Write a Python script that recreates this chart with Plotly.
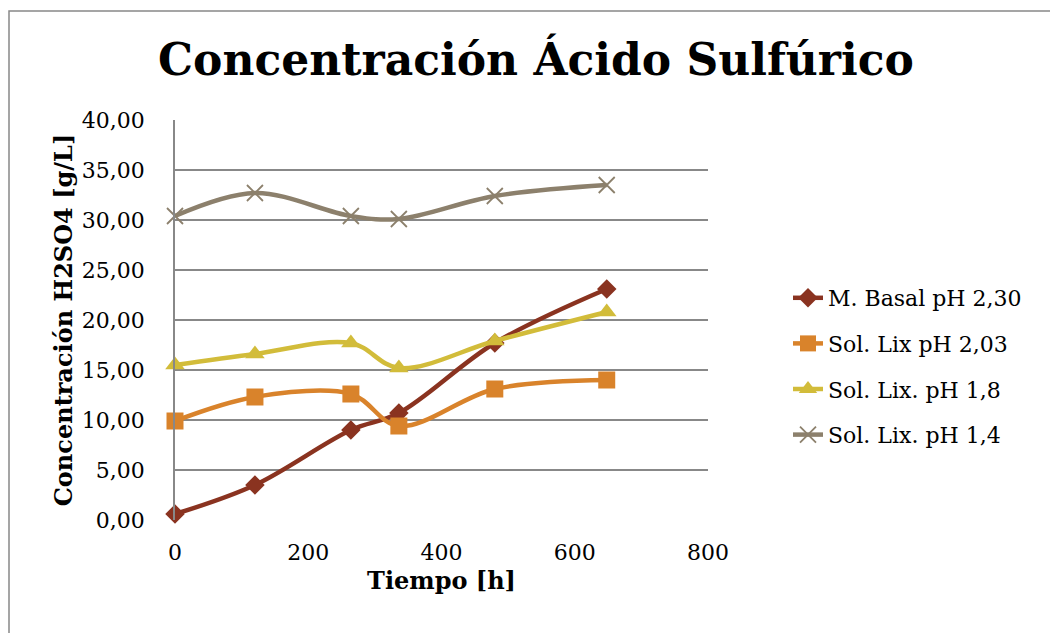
import plotly.graph_objects as go

tiempo = [0, 120, 264, 336, 480, 648]
basal_230 = [0.6, 3.5, 9.0, 10.7, 17.7, 23.1]
lix_203 = [9.9, 12.3, 12.6, 9.4, 13.1, 14.0]
lix_18 = [15.5, 16.6, 17.7, 15.2, 17.9, 20.8]
lix_14 = [30.4, 32.7, 30.4, 30.1, 32.4, 33.5]

names = ["M. Basal pH 2,30", "Sol. Lix pH 2,03", "Sol. Lix. pH 1,8", "Sol. Lix. pH 1,4"]
colors = ["#8A3320", "#D9832B", "#D2BC3A", "#8C806C"]
symbols = ["diamond", "square", "triangle-up", "x-thin"]
sizes = [15, 17, 17, 16]
series = [basal_230, lix_203, lix_18, lix_14]

FONT = "Georgia, 'DejaVu Serif', serif"

fig = go.Figure()
for nm, col, sym, sz, ys in zip(names, colors, symbols, sizes, series):
    marker = dict(symbol=sym, size=sz, color=col)
    if sym == "x-thin":
        marker["line"] = dict(color=col, width=1.8)
    fig.add_trace(go.Scatter(
        x=tiempo, y=ys, name=nm, mode="lines+markers",
        line=dict(color=col, width=4.5, shape="spline", smoothing=1.0),
        marker=marker, legendgroup=nm, cliponaxis=False,
    ))

L, R, T, B = 175, 1050 - 708, 120, 633 - 520
pw, ph = 1050 - L - R, 633 - T - B

fig.update_layout(
    width=1050, height=633,
    margin=dict(l=L, r=R, t=T, b=B),
    paper_bgcolor="white", plot_bgcolor="white",
    separators=",.",
    font=dict(family=FONT, size=22, color="black"),
    title=dict(text="<b>Concentración Ácido Sulfúrico</b>", x=536 / 1050, xanchor="center",
               y=1 - 60 / 633, yanchor="middle", font=dict(family=FONT, size=44, color="black")),
    xaxis=dict(range=[0, 800], tickvals=[0, 200, 400, 600, 800], showgrid=False, zeroline=False,
               showline=False, ticks="", ticklabelstandoff=17,
               title=dict(text="<b>Tiempo [h]</b>", standoff=8, font=dict(family=FONT, size=24))),
    yaxis=dict(range=[0, 40], tickvals=[0, 5, 10, 15, 20, 25, 30, 35, 40], tickformat=".2f",
               showgrid=True, gridcolor="#888888", gridwidth=1.5, zeroline=False,
               showline=True, linecolor="#888888", linewidth=1.5, ticks="", ticklabelstandoff=24,
               title=dict(text="<b>Concentración H2SO4 [g/L]</b>", standoff=2, font=dict(family=FONT, size=24))),
    legend=dict(x=(788 - L) / pw, xanchor="left", y=(520 - 277) / ph, yanchor="top",
                font=dict(family=FONT, size=22), tracegroupgap=14, bgcolor="rgba(0,0,0,0)"),
    showlegend=True,
)

fig.add_shape(type="rect", xref="paper", yref="paper",
              x0=(9 - L) / pw, x1=(1100 - L) / pw, y0=(520 - 700) / ph, y1=(520 - 11) / ph,
              line=dict(color="#888888", width=1.5), fillcolor="rgba(0,0,0,0)", layer="below")

fig.write_html("out.html")
